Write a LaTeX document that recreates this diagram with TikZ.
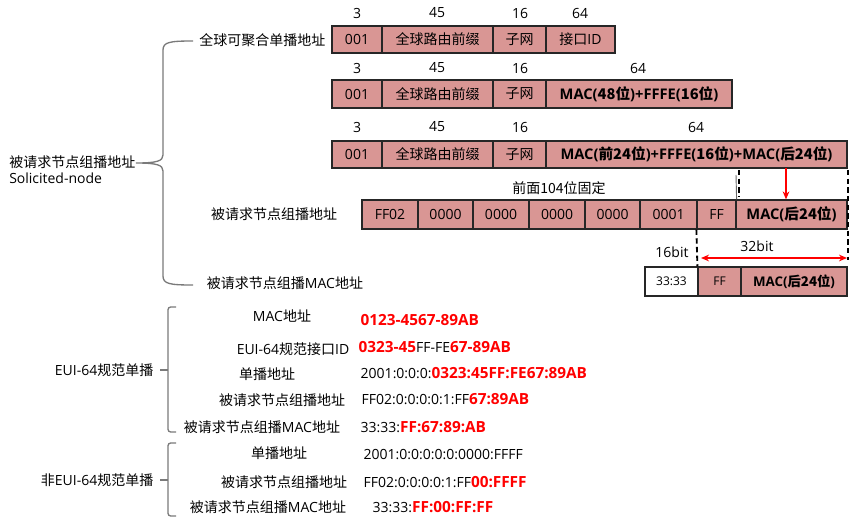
\documentclass[tikz,border=0pt]{standalone}
\usepackage{fontspec}
\setmainfont{Open Sans}
\newfontfamily\cjk{Noto Sans CJK SC}
\usetikzlibrary{positioning, calc, arrows.meta}

\definecolor{cellfill}{HTML}{D99694}
\definecolor{bracegray}{HTML}{7A7A7A}
\newcommand{\zh}[1]{{\cjk #1}}
\newcommand{\redb}[1]{\textcolor{red}{\fontsize{11.5}{12}\selectfont\bfseries #1}}
\newcommand{\bmac}[1]{{\fontsize{11}{12}\selectfont\bfseries #1}}

\begin{document}
\begin{tikzpicture}[x=0.75pt, y=-0.75pt, >=Stealth,
    font=\fontsize{10.5}{12}\selectfont,
    cell/.style={draw=black!85, line width=0.9pt, fill=cellfill, inner sep=0pt},
    small/.style={font=\fontsize{9}{10}\selectfont},
    brace/.style={draw=bracegray, line width=1pt},
    guide/.style={black, line width=1.4pt, dash pattern=on 4pt off 2.5pt},
    redarrow/.style={red, line width=1.3pt, -{Stealth[length=6pt,width=5pt]}}]

    \useasboundingbox (0,0) rectangle (855,525);

    % ================= Global unicast rows =================
    \node (h1a) at (357,13) {3};
    \node (h1b) at (437,13) {45};
    \node (h1c) at (520,13) {16};
    \node (h1d) at (580,13) {64};
    \foreach \xa/\xb/\txt [count=\i] in {332/382/001, 382/493/\zh{全球路由前缀}, 493/546/\zh{子网}, 546/615/\zh{接口}ID}
        \node[cell, minimum width={(\xb-\xa)*0.75pt}, minimum height=20.25pt] (a\i) at ({(\xa+\xb)/2},39.5) {\txt};
    \node[anchor=east] (glabel) at (330,40) {\zh{全球可聚合单播地址}};

    \node (h2a) at (357,68) {3};
    \node (h2b) at (437,68) {45};
    \node (h2c) at (520,68) {16};
    \node (h2d) at (638,68) {64};
    \foreach \xa/\xb/\txt [count=\i] in {332/382/001, 382/493/\zh{全球路由前缀}, 493/546/\zh{子网},
        546/732/\bmac{MAC(\zh{48位})+FFFE(\zh{16位})}}
        \node[cell, minimum width={(\xb-\xa)*0.75pt}, minimum height=21pt] (b\i) at ({(\xa+\xb)/2},94) {\txt};

    \node (h3a) at (357,127) {3};
    \node (h3b) at (437,127) {45};
    \node (h3c) at (520,127) {16};
    \node (h3d) at (696,127) {64};
    \foreach \xa/\xb/\txt [count=\i] in {332/382/001, 382/493/\zh{全球路由前缀}, 493/546/\zh{子网},
        546/847/\bmac{MAC(\zh{前24位})+FFFE(\zh{16位})+MAC(\zh{后24位})}}
        \node[cell, minimum width={(\xb-\xa)*0.75pt}, minimum height=20.25pt] (c\i) at ({(\xa+\xb)/2},154.5) {\txt};

    % ================= Solicited-node multicast =================
    \node (fixed) at (559,188) {\zh{前面104位固定}};
    \foreach \xa/\xb/\txt [count=\i] in {362/418/FF02, 418/473/0000, 473/529/0000, 529/585/0000,
        585/640/0000, 640/697/0001, 697/736/FF, 736/847/\bmac{MAC(\zh{后24位})}}
        \node[cell, minimum width={(\xb-\xa)*0.75pt}, minimum height=21.75pt] (d\i) at ({(\xa+\xb)/2},214.5) {\txt};
    \node (snlabel) at (274,214) {\zh{被请求节点组播地址}};

    % ================= Solicited-node MAC =================
    \foreach \xa/\xb/\txt/\fl [count=\i] in {645/698/33:33/white, 698/741/FF/cellfill,
        741/847/{\fontsize{10}{11}\selectfont\bfseries MAC(\zh{后24位})}/cellfill}
        \node[cell, small, fill=\fl, minimum width={(\xb-\xa)*0.75pt}, minimum height=21.75pt] (e\i) at ({(\xa+\xb)/2},281.5) {\txt};
    \node (maclabel) at (285,283) {\zh{被请求节点组播}MAC\zh{地址}};

    % guide lines and arrows
    \coordinate (drop) at (786,168);
    \draw[redarrow] (drop) -- (drop |- d8.north);
    \draw[black!60, line width=0.7pt] (736,175) -- (d7.north east);
    \draw[guide] (739,170) -- (739,197);
    \draw[guide] (848,170) -- (848,260);
    \draw[guide] (d7.south west) -- (e2.north west);
    \coordinate (span l) at (701,258);
    \coordinate (span r) at (847,258);
    \draw[red, line width=1.3pt, {Stealth[length=6pt,width=5pt]}-{Stealth[length=6pt,width=5pt]}] (span l) -- (span r);
    \node (bits32) at (757,246) {32bit};
    \node (bits16) at (672,252) {16bit};

    % left brace
    \node[anchor=west, align=left, inner sep=0pt] (solnode) at (9,170) {\zh{被请求节点组播地址}\\Solicited-node};
    \draw[brace] (193,41) .. controls (170,41) and (163,42) .. (163,50) -- (163,155)
        .. controls (163,161) and (157,163) .. (136,163)
        .. controls (157,163) and (163,165) .. (163,171) -- (163,276)
        .. controls (163,284) and (170,285) .. (193,285);

    % ================= EUI-64 example =================
    \draw[brace, rounded corners=2pt] (176,307) -- (168,307) -- (168,432) -- (176,432);
    \draw[brace] (160,370) -- (168,370);
    \node[anchor=east] (eui) at (158,370) {EUI-64\zh{规范单播}};

    \node (l1) at (282,316) {MAC\zh{地址}};
    \node (l2) at (293,349) {EUI-64\zh{规范接口}ID};
    \node (l3) at (267,374) {\zh{单播地址}};
    \node (l4) at (282,400) {\zh{被请求节点组播地址}};
    \node (l5) at (262,427) {\zh{被请求节点组播}MAC\zh{地址}};
    \node[anchor=west] (v1) at (356,320) {\redb{0123-4567-89AB}};
    \node[anchor=west] (v2) at (354,347) {\redb{0323-45}FF-FE\redb{67-89AB}};
    \node[anchor=west] (v3) at (356,373) {2001:0:0:0:\redb{0323:45FF:FE67:89AB}};
    \node[anchor=west] (v4) at (357,399) {FF02:0:0:0:0:1:FF\redb{67:89AB}};
    \node[anchor=west] (v5) at (356,427) {33:33:\redb{FF:67:89:AB}};

    % ================= non EUI-64 example =================
    \draw[brace, rounded corners=2pt] (176,443) -- (168,443) -- (168,516) -- (176,516);
    \draw[brace] (160,480) -- (168,480);
    \node[anchor=east] (neui) at (158,480) {\zh{非}EUI-64\zh{规范单播}};

    \node (m1) at (279,453) {\zh{单播地址}};
    \node (m2) at (284,482) {\zh{被请求节点组播地址}};
    \node (m3) at (268,507) {\zh{被请求节点组播}MAC\zh{地址}};
    \node[anchor=west] (w1) at (359,455) {2001:0:0:0:0:0:0000:FFFF};
    \node[anchor=west] (w2) at (359,482) {FF02:0:0:0:0:1:FF\redb{00:FFFF}};
    \node[anchor=west] (w3) at (368,507) {33:33:\redb{FF:00:FF:FF}};

\end{tikzpicture}
\end{document}
